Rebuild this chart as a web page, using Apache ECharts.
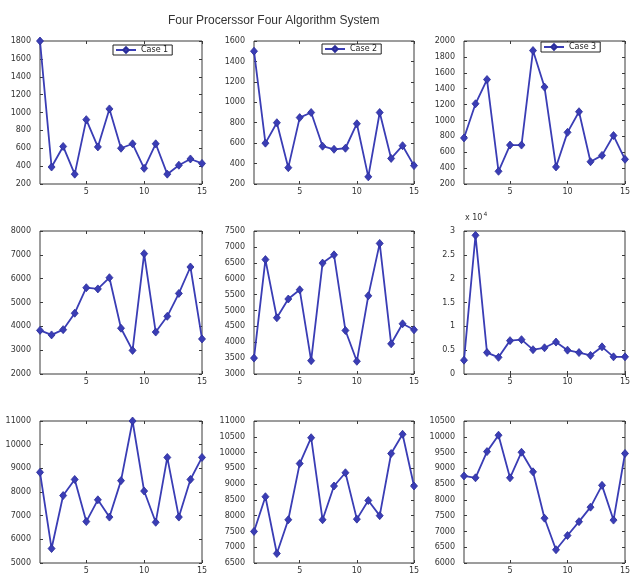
<!DOCTYPE html>
<html>
<head>
<meta charset="utf-8">
<title>Four Procerssor Four Algorithm System</title>
<script src="https://cdn.jsdelivr.net/npm/echarts@6/dist/echarts.min.js"></script>
<style>
  html, body { margin: 0; padding: 0; background: #fff; }
  #chart { width: 635px; height: 575px; }
</style>
</head>
<body>
<div id="chart"></div>
<script>
// Iteration index shared by every panel
const categories = ['1', '2', '3', '4', '5', '6', '7', '8', '9', '10', '11', '12', '13', '14', '15'];

// Measured values, one array per panel (row by row)
const case1 = [1800, 390, 620, 310, 920, 615, 1040, 600, 650, 375, 650, 310, 410, 480, 430];
const case2 = [1500, 600, 800, 360, 850, 900, 570, 540, 550, 790, 270, 900, 450, 575, 380];
const case3 = [780, 1210, 1515, 360, 690, 690, 1880, 1420, 415, 850, 1110, 480, 560, 810, 510];
const case4 = [3830, 3640, 3860, 4550, 5620, 5570, 6040, 3920, 2990, 7050, 3760, 4420, 5380, 6490, 3470];
const case5 = [3500, 6600, 4770, 5360, 5650, 3420, 6490, 6750, 4370, 3400, 5460, 7110, 3950, 4580, 4390];
const case6 = [2900, 29100, 4500, 3500, 7000, 7200, 5100, 5500, 6700, 5000, 4500, 3900, 5700, 3600, 3600];
const case7 = [8830, 5610, 7850, 8530, 6750, 7670, 6940, 8480, 11000, 8040, 6720, 9460, 6940, 8530, 9460];
const case8 = [7500, 8600, 6800, 7870, 9650, 10470, 7870, 8940, 9360, 7890, 8480, 8000, 9970, 10580, 8940];
const case9 = [8760, 8700, 9530, 10050, 8700, 9510, 8890, 7420, 6420, 6870, 7310, 7770, 8460, 7360, 9470];

const seriesNames = ['Case 1', 'Case 2', 'Case 3', 'Case 4', 'Case 5', 'Case 6', 'Case 7', 'Case 8', 'Case 9'];
const legendNames = ['Case 1', 'Case 2', 'Case 3'];
const xTickLabels = ['5', '10', '15'];

// y-axis extents per panel: [min, max, step]
const yRanges = [
  [200, 1800, 200], [200, 1600, 200], [200, 2000, 200],
  [2000, 8000, 1000], [3000, 7500, 500], [0, 30000, 5000],
  [5000, 11000, 1000], [6500, 11000, 500], [6000, 10500, 500]
];

const allData = [case1, case2, case3, case4, case5, case6, case7, case8, case9];

// Panel geometry
const colLeft = [40, 254, 464];
const colWidth = [162, 160, 161];
const rowTop = [41, 231, 421];
const rowHeight = 143;

const lineColor = '#3a3db5';
const frameColor = '#3a3a3a';
const labelFont = 'DejaVu Sans';

const grids = [], xAxes = [], yAxes = [], series = [];

const showTick = (idx, val) => xTickLabels.indexOf(String(val)) >= 0;

allData.forEach((vals, i) => {
  const r = Math.floor(i / 3), c = i % 3;
  grids.push({
    left: colLeft[c], top: rowTop[r], width: colWidth[c], height: rowHeight,
    show: true, borderColor: frameColor, borderWidth: 1, backgroundColor: '#fff'
  });
  // bottom x axis with labels
  xAxes.push({
    gridIndex: i, type: 'category', data: categories, boundaryGap: false, position: 'bottom',
    axisLine: { show: false },
    axisTick: { show: true, inside: true, length: 3, interval: showTick, lineStyle: { color: frameColor } },
    axisLabel: { interval: showTick, fontSize: 8, color: '#333', fontFamily: labelFont, margin: 4 },
    splitLine: { show: false }
  });
  // top x axis: ticks only
  xAxes.push({
    gridIndex: i, type: 'category', data: categories, boundaryGap: false, position: 'top',
    axisLine: { show: false },
    axisTick: { show: true, inside: true, length: 3, interval: showTick, lineStyle: { color: frameColor } },
    axisLabel: { show: false },
    splitLine: { show: false }
  });
  const [ymin, ymax, step] = yRanges[i];
  const scaled = ymax >= 20000;
  yAxes.push({
    gridIndex: i, type: 'value', min: ymin, max: ymax, interval: step, position: 'left',
    axisLine: { show: false },
    axisTick: { show: true, inside: true, length: 3, lineStyle: { color: frameColor } },
    axisLabel: {
      fontSize: 8, color: '#333', fontFamily: labelFont, margin: 9,
      formatter: v => scaled ? String(v / 10000) : String(v)
    },
    splitLine: { show: false }
  });
  yAxes.push({
    gridIndex: i, type: 'value', min: ymin, max: ymax, interval: step, position: 'right',
    axisLine: { show: false },
    axisTick: { show: true, inside: true, length: 3, lineStyle: { color: frameColor } },
    axisLabel: { show: false },
    splitLine: { show: false }
  });
  series.push({
    name: seriesNames[i], type: 'line', data: vals,
    xAxisIndex: i * 2, yAxisIndex: i * 2,
    clip: false,
    showSymbol: true, showAllSymbol: true,
    symbol: 'diamond', symbolSize: [7, 8],
    lineStyle: { color: lineColor, width: 1.8 },
    itemStyle: { color: lineColor, borderColor: '#2a2d9a', borderWidth: 0.8 },
    animation: false
  });
});

const legendBoxes = [
  { left: 113, top: 45 },
  { left: 322, top: 44 },
  { left: 541, top: 42 }
];

const legends = legendNames.map((n, k) => ({
  data: [n], left: legendBoxes[k].left, top: legendBoxes[k].top,
  orient: 'horizontal', padding: [1, 4, 1, 2], itemWidth: 20, itemHeight: 7, itemGap: 4,
  borderColor: '#222', borderWidth: 1, backgroundColor: '#fff',
  textStyle: { fontSize: 8, color: '#222', fontFamily: labelFont },
  selectedMode: false
}));

const chart = echarts.init(document.getElementById('chart'), null, { renderer: 'canvas' });
chart.setOption({
  backgroundColor: '#fff',
  animation: false,
  title: {
    text: 'Four Procerssor Four Algorithm System',
    left: 163, top: 10,
    textStyle: { fontSize: 12, fontWeight: 'normal', color: '#333', fontFamily: 'Liberation Sans' }
  },
  graphic: [{
    type: 'text', left: 465, top: 211,
    style: {
      text: '{a|x 10}{s|4}',
      rich: {
        a: { fontSize: 8, fill: '#333', fontFamily: labelFont, padding: [4, 0, 0, 0] },
        s: { fontSize: 6, fill: '#333', fontFamily: labelFont, padding: [0, 0, 4, 1] }
      }
    }
  }],
  legend: legends,
  grid: grids,
  xAxis: xAxes,
  yAxis: yAxes,
  series: series
});
</script>
</body>
</html>
